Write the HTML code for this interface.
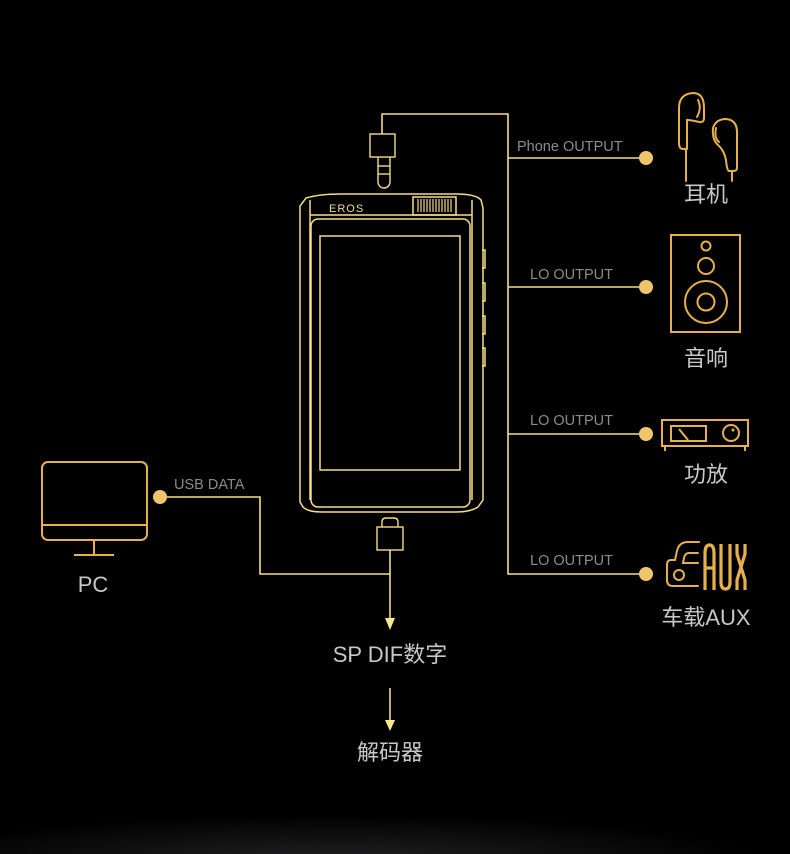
<!DOCTYPE html>
<html><head><meta charset="utf-8"><style>
html,body{margin:0;padding:0;background:#000;}
body{width:790px;height:854px;overflow:hidden;position:relative;}
svg{position:absolute;left:0;top:0;}
text{font-family:"Liberation Sans","Noto Sans CJK SC",sans-serif;}
</style></head><body>
<svg width="790" height="854" viewBox="0 0 790 854" xmlns="http://www.w3.org/2000/svg">
<defs>
<radialGradient id="g1" cx="0.42" cy="1.1" r="0.55">
<stop offset="0" stop-color="#222224"/><stop offset="1" stop-color="#000"/>
</radialGradient>
</defs>
<rect width="790" height="854" fill="#000"/>
<rect x="0" y="765" width="790" height="89" fill="url(#g1)"/>

<g stroke="#f4dd86" stroke-width="1.6" fill="none">
<polyline points="382,134 382,114 508,114 508,574 646,574"/>
<line x1="508" y1="158" x2="646" y2="158"/>
<line x1="508" y1="287" x2="646" y2="287"/>
<line x1="508" y1="434" x2="646" y2="434"/>
<polyline points="160,497 260,497 260,574 390,574"/>
<line x1="390" y1="550" x2="390" y2="622"/>
<line x1="390" y1="688" x2="390" y2="726"/>
</g>
<g fill="#f8e88f">
<polygon points="385,618 395,618 390,630"/>
<polygon points="385,720 395,720 390,731"/>
</g>
<g fill="#f0c468">
<circle cx="646" cy="158" r="7"/><circle cx="646" cy="287" r="7"/>
<circle cx="646" cy="434" r="7"/><circle cx="646" cy="574" r="7"/>
<circle cx="160" cy="497" r="7"/>
</g>

<g stroke="#f4dd86" stroke-width="1.4" fill="none">
<rect x="370" y="134" width="25" height="23"/>
<path d="M378,157 V182 A6,6 0 0 0 390,182 V157"/>
<line x1="378" y1="166" x2="390" y2="166"/><line x1="378" y1="174" x2="390" y2="174"/>
</g>

<g stroke="#f4dd86" stroke-width="1.5" fill="none">
<path d="M306,198 Q320,194 340,194 H456 Q476,194 481,200 L483,208 V500 L478,507 Q470,512 456,512 H322 Q308,512 303,507 L300,502 V206 Z"/>
<line x1="310" y1="200" x2="310" y2="500"/>
<line x1="472" y1="200" x2="472" y2="500"/>
<line x1="310" y1="215" x2="472" y2="215"/>
<rect x="311" y="219" width="159" height="288" rx="7"/>
<rect x="320" y="236" width="140" height="234"/>
<rect x="413" y="197" width="43" height="18"/>
<path d="M482,250 h3 v18 h-3 M482,283 h3 v18 h-3 M482,316 h3 v18 h-3 M482,348 h3 v18 h-3"/>
</g>
<g stroke="#f4dd86" stroke-width="1.2">
<line x1="418" y1="199" x2="418" y2="212"/><line x1="421" y1="199" x2="421" y2="212"/><line x1="424" y1="199" x2="424" y2="212"/><line x1="427" y1="199" x2="427" y2="212"/><line x1="430" y1="199" x2="430" y2="212"/><line x1="433" y1="199" x2="433" y2="212"/><line x1="436" y1="199" x2="436" y2="212"/><line x1="439" y1="199" x2="439" y2="212"/><line x1="442" y1="199" x2="442" y2="212"/><line x1="445" y1="199" x2="445" y2="212"/><line x1="448" y1="199" x2="448" y2="212"/><line x1="451" y1="199" x2="451" y2="212"/>
</g>
<text x="329" y="212" font-size="11" fill="#f4dd86" letter-spacing="1">EROS</text>

<g stroke="#f4dd86" stroke-width="1.4" fill="none">
<path d="M382,527 V522 Q382,518 386,518 H394 Q398,518 398,522 V527"/>
<rect x="377" y="527" width="26" height="23"/>
</g>

<g stroke="#e6b04a" stroke-width="2" fill="none">
<rect x="42" y="462" width="105" height="78" rx="6"/>
<line x1="42" y1="525" x2="147" y2="525"/>
<line x1="94" y1="540" x2="94" y2="554"/>
<line x1="74" y1="555" x2="114" y2="555"/>
</g>

<g stroke="#e6b04a" stroke-width="2" fill="none" stroke-linecap="round">
<path d="M686,181 V149 H683 Q679,149 679,143 V108 Q679,94 693,93 Q704,93 704,108 V118 Q704,123 699,122 Q691,120 687,120 V149"/>
<path d="M698,100 Q702,108 697,117"/>
<path d="M732,181 V171 H729 Q727,171 726,160 Q724,150 718,145 Q712,140 713,128 Q716,119 726,119 Q738,120 737,135 V168 Q737,171 733,171"/>
<path d="M716,128 Q714,138 719,142"/>
</g>

<g stroke="#e6b04a" stroke-width="2" fill="none">
<rect x="671" y="235" width="69" height="97"/>
<circle cx="706" cy="246" r="4.5"/>
<circle cx="706" cy="266" r="8"/>
<circle cx="706" cy="302" r="21"/>
<circle cx="706" cy="302" r="8.5"/>
</g>

<g stroke="#e6b04a" stroke-width="2" fill="none">
<rect x="662" y="420" width="86" height="26"/>
<rect x="671" y="426" width="35" height="15"/>
<line x1="679" y1="429" x2="688" y2="440"/>
<circle cx="731" cy="433" r="8"/>
<line x1="665" y1="446" x2="665" y2="451"/><line x1="745" y1="446" x2="745" y2="451"/>
</g>
<circle cx="733" cy="430" r="1.5" fill="#e6b04a"/>

<g stroke="#e6b04a" stroke-width="2" fill="none" stroke-linecap="round">
<path d="M699,542 H688 Q679,542 677,551 L675,560 H671 Q667,560 667,565 V580 Q667,586 673,586 H698"/>
<path d="M698,553 H689 Q685,553 684,558 L683,563 H698"/>
<circle cx="679" cy="575" r="5"/>
</g>
<g stroke="#e6b04a" stroke-width="3.2" fill="none">
<path d="M705,590 V553 Q705,545 709.5,545 Q714,545 714,553 V590 M705,568 H714"/>
<path d="M721,544 V582 Q721,589 725.5,589 Q730,589 730,582 V544"/>
<path d="M737,544 V554 L745,580 V590 M745,544 V554 L737,580 V590"/>
</g>

<g fill="#8c8c8c" font-size="14.5">
<text x="517" y="151">Phone OUTPUT</text>
<text x="530" y="279">LO OUTPUT</text>
<text x="530" y="425">LO OUTPUT</text>
<text x="530" y="565">LO OUTPUT</text>
<text x="174" y="489">USB DATA</text>
</g>
<g fill="#c8c8c8" font-size="22" text-anchor="middle">
<text x="706" y="202">耳机</text>
<text x="706" y="366">音响</text>
<text x="706" y="482">功放</text>
<text x="706" y="625">车载AUX</text>
<text x="93" y="592">PC</text>
<text x="390" y="662">SP DIF数字</text>
<text x="390" y="760">解码器</text>
</g>
</svg>
</body></html>
